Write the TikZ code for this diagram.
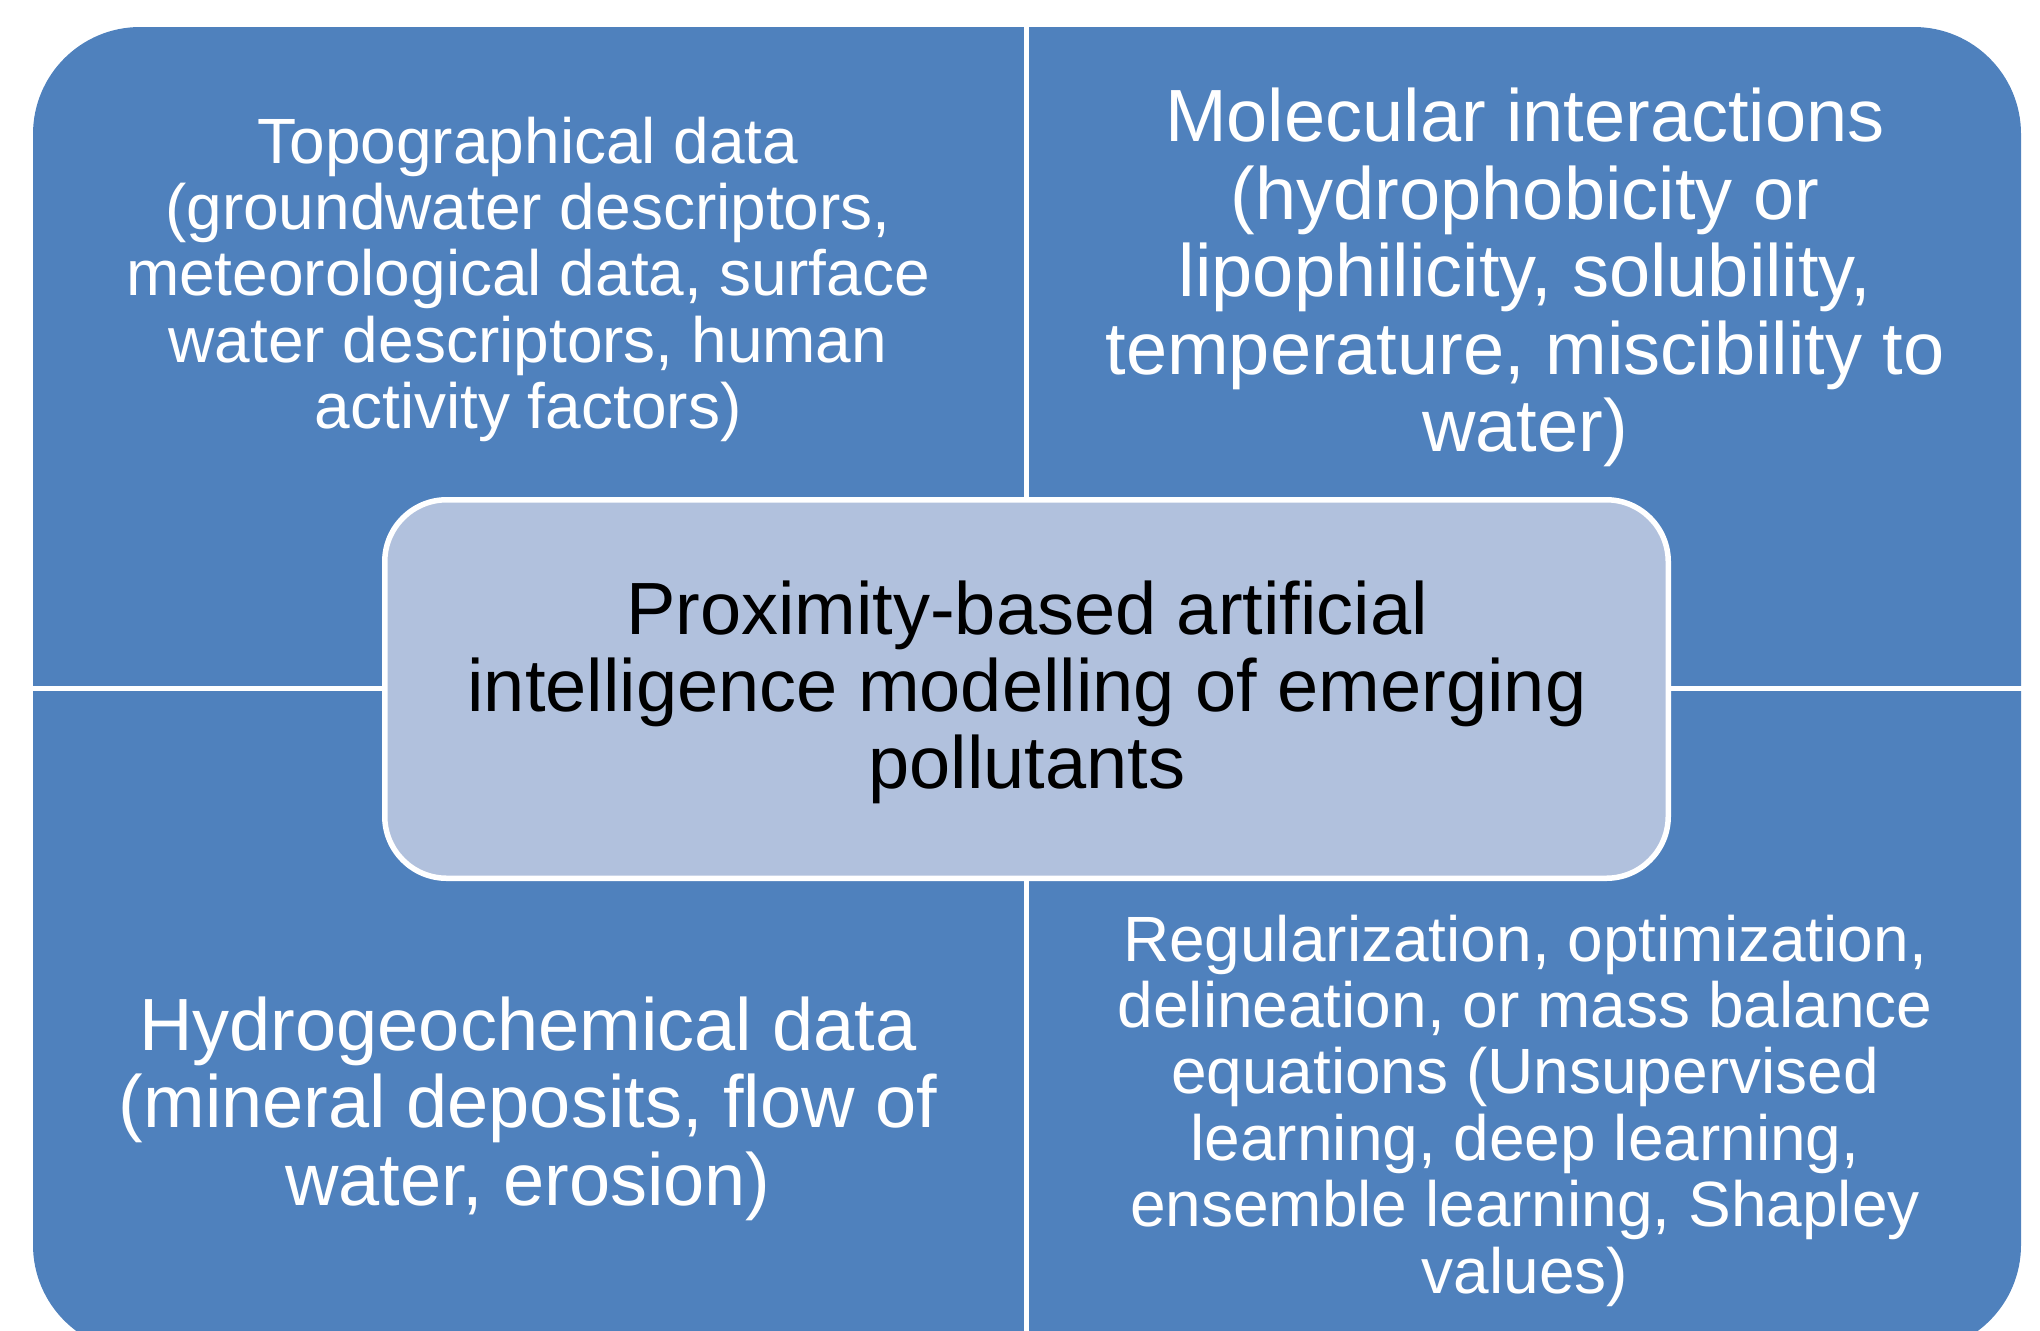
\documentclass[tikz,border=0pt]{standalone}
\usepackage{fontspec}
\setmainfont{Liberation Sans}
\definecolor{quadblue}{RGB}{79,129,189}
\definecolor{centerfill}{RGB}{177,193,221}
\begin{document}
\begin{tikzpicture}[x=0.5pt,y=-0.5pt,
  quad/.style={fill=quadblue},
  gap/.style={draw=white, line width=2.5pt},
  smalltext/.style={text=white, align=center, anchor=base, inner sep=0pt, font=\fontsize{32}{33.2}\selectfont},
  largetext/.style={text=white, align=center, anchor=base, inner sep=0pt, font=\fontsize{37}{38.75}\selectfont},
  centerbox/.style={draw=white, line width=2.75pt, fill=centerfill, rounded corners=31pt, minimum width=641.75pt, minimum height=189.25pt, inner sep=0pt},
  centertext/.style={text=black, align=center, anchor=base, inner sep=0pt, font=\fontsize{37}{38.5}\selectfont}]
\useasboundingbox (0,0) rectangle (2040,1330);
\begin{scope}
\clip (0,0) rectangle (2040,1330);
\fill[quad, rounded corners=53.5pt] (33,27) rectangle (2021,1352);
\end{scope}
\coordinate (vtop) at (1026.5,20);
\coordinate (vbot) at (1026.5,1335);
\coordinate (hleft) at (25,688.5);
\coordinate (hright) at (2030,688.5);
\draw[gap] (vtop) -- (vbot);
\draw[gap] (hleft) -- (hright);
\node[centerbox] (core) at (1026.5,689) {};
\node[centertext] (coretext) at (1027,788) {Proximity-based artificial\\intelligence modelling of emerging\\pollutants};
\node[smalltext] (topo) at (528,428.6) {Topographical data\\(groundwater descriptors,\\meteorological data, surface\\water descriptors, human\\activity factors)};
\node[largetext] (mol) at (1525,451.5) {Molecular interactions\\(hydrophobicity or\\lipophilicity, solubility,\\temperature, miscibility to\\water)};
\node[largetext] (hydro) at (528,1205) {Hydrogeochemical data\\(mineral deposits, flow of\\water, erosion)};
\node[smalltext] (reg) at (1525,1293) {Regularization, optimization,\\delineation, or mass balance\\equations (Unsupervised\\learning, deep learning,\\ensemble learning, Shapley\\values)};
\end{tikzpicture}
\end{document}
